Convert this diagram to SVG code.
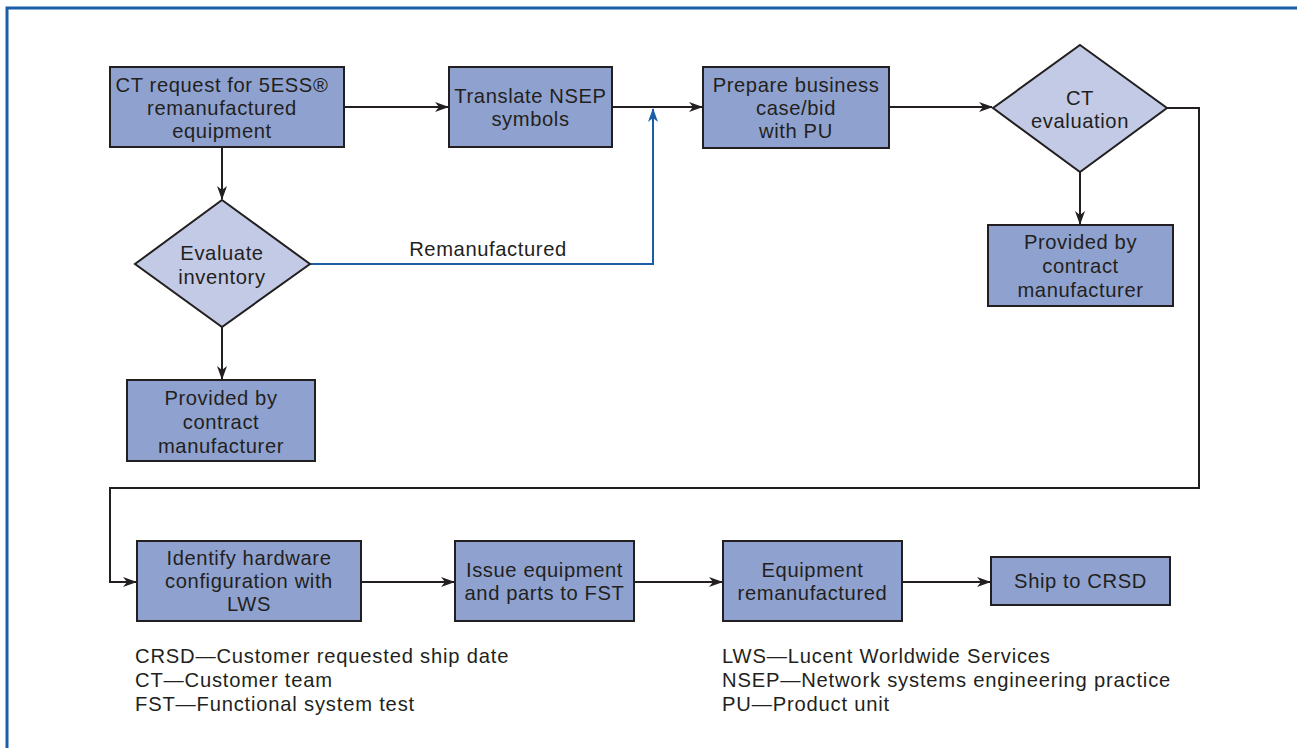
<svg xmlns="http://www.w3.org/2000/svg" width="1297" height="748" viewBox="0 0 1297 748">
  <style>
    .box { fill: #8fa2cf; stroke: #231f20; stroke-width: 2; }
    .dia { fill: #c3cae5; stroke: #231f20; stroke-width: 2; }
    .t { font-family: "Liberation Sans", Arial, sans-serif; font-size: 20.2px; letter-spacing: 0.6px; fill: #231f20; text-anchor: middle; }
    .leg { font-family: "Liberation Sans", Arial, sans-serif; font-size: 20.2px; letter-spacing: 0.8px; fill: #231f20; }
    .ln { fill: none; stroke: #231f20; stroke-width: 2; }
    .blue { fill: none; stroke: #1a5ea8; stroke-width: 2; }
  </style>
  <defs>
    <marker id="ah" markerUnits="userSpaceOnUse" markerWidth="14" markerHeight="10" refX="13" refY="5" orient="auto">
      <path d="M0,0 L14,5 L0,10 L4,5 Z" fill="#231f20"/>
    </marker>
    <marker id="ahb" markerUnits="userSpaceOnUse" markerWidth="14" markerHeight="10" refX="13" refY="5" orient="auto">
      <path d="M0,0 L14,5 L0,10 L4,5 Z" fill="#1a5ea8"/>
    </marker>
  </defs>

  <rect width="1297" height="748" fill="#ffffff"/>
  <!-- frame -->
  <path d="M7,748 L7,8 L1297,8" fill="none" stroke="#1a5ea8" stroke-width="3"/>

  <g id="connectors">
    <line class="ln" x1="344" y1="107" x2="448" y2="107" marker-end="url(#ah)"/>
    <line class="ln" x1="612" y1="107" x2="702" y2="107" marker-end="url(#ah)"/>
    <line class="ln" x1="889" y1="107" x2="992" y2="107" marker-end="url(#ah)"/>
    <line class="ln" x1="222" y1="147" x2="222" y2="199" marker-end="url(#ah)"/>
    <line class="ln" x1="222" y1="327" x2="222" y2="379" marker-end="url(#ah)"/>
    <line class="ln" x1="1080" y1="172" x2="1080" y2="224" marker-end="url(#ah)"/>
    <path class="blue" d="M310,264 L653,264 L653,109" marker-end="url(#ahb)"/>
    <path class="ln" d="M1167,108 L1199,108 L1199,488 L110,488 L110,582 L136,582" marker-end="url(#ah)"/>
    <line class="ln" x1="361" y1="582" x2="454" y2="582" marker-end="url(#ah)"/>
    <line class="ln" x1="634" y1="582" x2="722" y2="582" marker-end="url(#ah)"/>
    <line class="ln" x1="902" y1="582" x2="990" y2="582" marker-end="url(#ah)"/>
    <text class="t" x="488" y="256">Remanufactured</text>
  </g>

  <g id="ct-request">
    <rect class="box" x="110" y="67" width="234" height="80"/>
    <text class="t" y="92"><tspan x="222">CT request for 5ESS®</tspan><tspan x="222" dy="23">remanufactured</tspan><tspan x="222" dy="23">equipment</tspan></text>
  </g>

  <g id="translate-nsep">
    <rect class="box" x="449" y="67" width="163" height="80"/>
    <text class="t" y="103"><tspan x="530.5">Translate NSEP</tspan><tspan x="530.5" dy="23">symbols</tspan></text>
  </g>

  <g id="prepare-business-case">
    <rect class="box" x="703" y="67" width="186" height="81"/>
    <text class="t" y="92"><tspan x="796">Prepare business</tspan><tspan x="796" dy="23">case/bid</tspan><tspan x="796" dy="23">with PU</tspan></text>
  </g>

  <g id="ct-evaluation">
    <polygon class="dia" points="1080,45 1167,108 1080,172 993,108"/>
    <text class="t" y="105"><tspan x="1080">CT</tspan><tspan x="1080" dy="23">evaluation</tspan></text>
  </g>

  <g id="provided-right">
    <rect class="box" x="988" y="225" width="185" height="81"/>
    <text class="t" y="249"><tspan x="1080.5">Provided by</tspan><tspan x="1080.5" dy="24">contract</tspan><tspan x="1080.5" dy="24">manufacturer</tspan></text>
  </g>

  <g id="evaluate-inventory">
    <polygon class="dia" points="222,200 310,264 222,327 135,264"/>
    <text class="t" y="260"><tspan x="222">Evaluate</tspan><tspan x="222" dy="24">inventory</tspan></text>
  </g>

  <g id="provided-left">
    <rect class="box" x="127" y="380" width="188" height="81"/>
    <text class="t" y="405"><tspan x="221">Provided by</tspan><tspan x="221" dy="24">contract</tspan><tspan x="221" dy="24">manufacturer</tspan></text>
  </g>

  <g id="identify-hardware">
    <rect class="box" x="137" y="541" width="224" height="80"/>
    <text class="t" y="565"><tspan x="249">Identify hardware</tspan><tspan x="249" dy="23">configuration with</tspan><tspan x="249" dy="23">LWS</tspan></text>
  </g>

  <g id="issue-equipment">
    <rect class="box" x="455" y="541" width="179" height="80"/>
    <text class="t" y="577"><tspan x="544.5">Issue equipment</tspan><tspan x="544.5" dy="23">and parts to FST</tspan></text>
  </g>

  <g id="equipment-remanufactured">
    <rect class="box" x="723" y="541" width="179" height="80"/>
    <text class="t" y="577"><tspan x="812.5">Equipment</tspan><tspan x="812.5" dy="23">remanufactured</tspan></text>
  </g>

  <g id="ship-to-crsd">
    <rect class="box" x="991" y="557" width="179" height="48"/>
    <text class="t" x="1080.5" y="588">Ship to CRSD</text>
  </g>

  <g id="legend">
    <text class="leg" y="663"><tspan x="135">CRSD—Customer requested ship date</tspan><tspan x="135" dy="24">CT—Customer team</tspan><tspan x="135" dy="24">FST—Functional system test</tspan></text>
    <text class="leg" y="663"><tspan x="722">LWS—Lucent Worldwide Services</tspan><tspan x="722" dy="24">NSEP—Network systems engineering practice</tspan><tspan x="722" dy="24">PU—Product unit</tspan></text>
  </g>
</svg>
